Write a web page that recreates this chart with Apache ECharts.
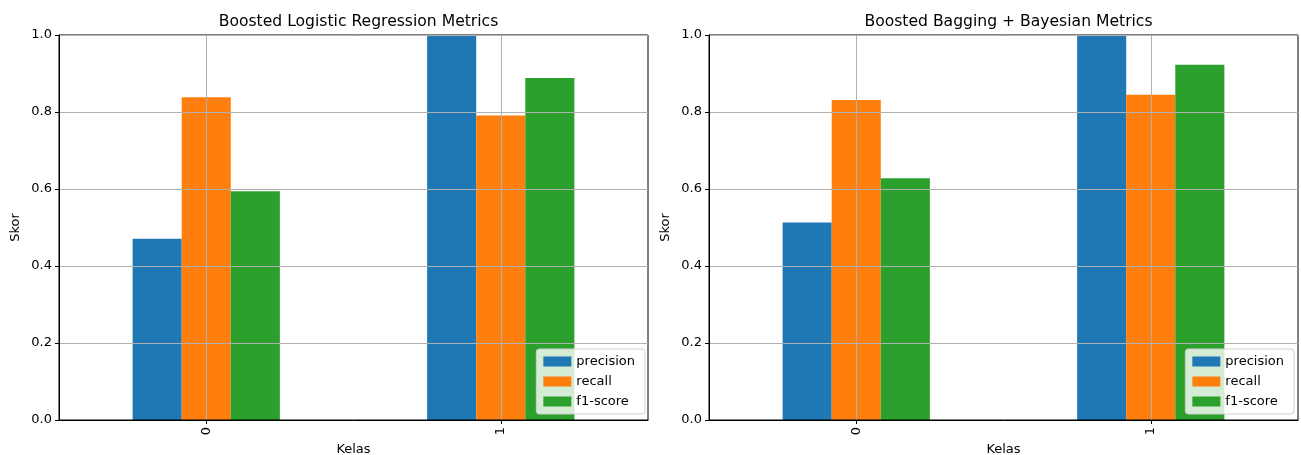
<!DOCTYPE html>
<html>
<head>
<meta charset="utf-8">
<script src="https://cdn.jsdelivr.net/npm/echarts@6/dist/echarts.min.js"></script>
<style>html,body{margin:0;padding:0;background:#fff}#c{width:1301px;height:455px}</style>
</head>
<body>
<div id="c"></div>
<script>
const categories = ['0', '1'];
const metricNames = ['precision', 'recall', 'f1-score'];
const colors = ['#1f77b4', '#ff7f0e', '#2ca02c'];

// Boosted Logistic Regression
const lrPrecision = [0.471, 1.0];
const lrRecall = [0.838, 0.791];
const lrF1 = [0.594, 0.888];

// Boosted Bagging + Bayesian
const bbPrecision = [0.513, 1.0];
const bbRecall = [0.831, 0.845];
const bbF1 = [0.628, 0.923];

const titles = ['Boosted Logistic Regression Metrics', 'Boosted Bagging + Bayesian Metrics'];
const modelData = [[lrPrecision, lrRecall, lrF1], [bbPrecision, bbRecall, bbF1]];

const FONT = 'DejaVu Sans';
const grids = [
  {left: 59, right: 653, top: 35, bottom: 35},
  {left: 709, right: 3, top: 35, bottom: 35}
];
const gridCenters = [353.5, 1003.5];

const option = {
  animation: false,
  backgroundColor: '#fff',
  textStyle: {fontFamily: FONT, color: '#000'},
  title: titles.map((t, i) => ({
    text: t, left: gridCenters[i], top: 9, textAlign: 'center',
    textStyle: {fontFamily: FONT, fontSize: 15.6, fontWeight: 'normal', color: '#000'}
  })),
  grid: grids.map(g => Object.assign({show: true, borderColor: '#000', borderWidth: 1,
    backgroundColor: 'transparent', outerBoundsMode: 'none', containLabel: false, z: 10}, g)),
  legend: [0, 1].map(i => ({
    orient: 'vertical',
    right: i === 0 ? 656 : 7,
    bottom: 41,
    data: metricNames,
    itemWidth: 28, itemHeight: 10, itemGap: 7,
    icon: 'rect',
    padding: [6, 10, 6, 7],
    backgroundColor: 'rgba(255,255,255,0.8)',
    borderColor: '#d0d0d0', borderWidth: 1, borderRadius: 3,
    textStyle: {fontFamily: FONT, fontSize: 13, color: '#000'},
    z: 20
  })),
  xAxis: [0, 1].map(i => ({
    type: 'category', gridIndex: i, data: categories,
    name: 'Kelas', nameLocation: 'middle', nameGap: 22,
    nameTextStyle: {fontFamily: FONT, fontSize: 13, color: '#000'},
    axisLine: {show: true, lineStyle: {color: '#000', width: 1}},
    axisTick: {show: true, alignWithLabel: true, length: 4, lineStyle: {color: '#000'}},
    axisLabel: {rotate: 90, fontFamily: FONT, fontSize: 13, color: '#000', margin: 7},
    splitLine: {show: false},
    z: 10
  })),
  yAxis: [0, 1].map(i => ({
    type: 'value', gridIndex: i, min: 0, max: 1, interval: 0.2,
    name: 'Skor', nameLocation: 'middle', nameGap: 37,
    nameTextStyle: {fontFamily: FONT, fontSize: 13, color: '#000'},
    axisLine: {show: true, lineStyle: {color: '#000', width: 1}},
    axisTick: {show: true, length: 4, lineStyle: {color: '#000'}},
    axisLabel: {fontFamily: FONT, fontSize: 13, color: '#000', margin: 7,
      formatter: v => (Math.round(v * 10) / 10).toFixed(1)},
    splitLine: {show: true, lineStyle: {color: '#b0b0b0', width: 1}},
    z: 10
  })),
  series: []
};

[0, 1].forEach(i => {
  metricNames.forEach((m, k) => {
    option.series.push({
      type: 'bar', name: m, xAxisIndex: i, yAxisIndex: i,
      data: modelData[i][k],
      barGap: '0%', barCategoryGap: '50%',
      itemStyle: {color: colors[k]},
      z: 2
    });
  });
  // vertical grid lines at category centres, drawn above the bars
  option.series.push({
    type: 'line', name: 'xgrid' + i, xAxisIndex: i, yAxisIndex: i,
    data: [], showSymbol: false, silent: true, z: 6,
    markLine: {
      silent: true, symbol: 'none', label: {show: false},
      lineStyle: {color: '#b0b0b0', width: 1, type: 'solid'},
      data: categories.map(c => ({xAxis: c})),
      z: 6
    }
  });
});

const chart = echarts.init(document.getElementById('c'), null, {renderer: 'canvas'});
chart.setOption(option);
</script>
</body>
</html>
